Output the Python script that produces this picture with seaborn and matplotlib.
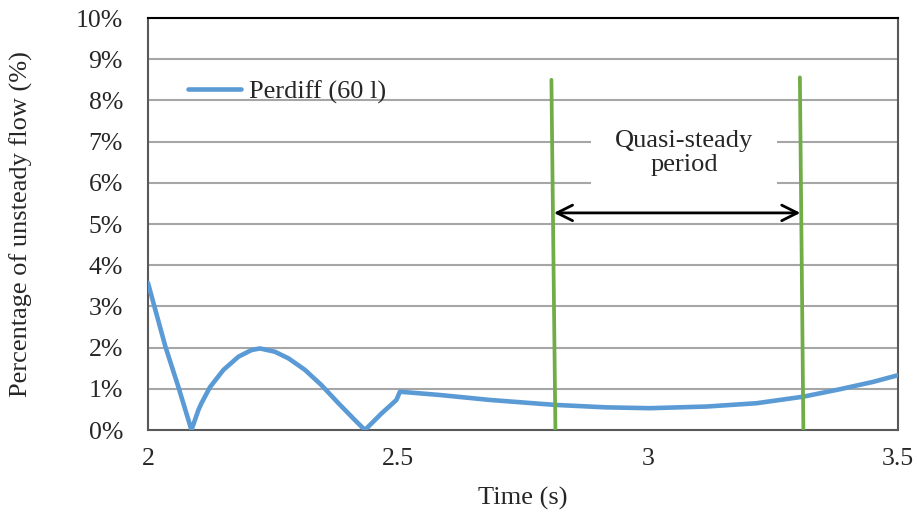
import numpy as np
import pandas as pd
import matplotlib
matplotlib.use('Agg')
import matplotlib.pyplot as plt
import seaborn as sns

# values
time_s = [2.0, 2.035, 2.061, 2.087, 2.101, 2.107, 2.124, 2.151, 2.181, 2.207,
          2.224, 2.254, 2.281, 2.314, 2.347, 2.381, 2.414, 2.434, 2.467, 2.497,
          2.504, 2.584, 2.684, 2.814, 2.917, 3.004, 3.117, 3.217, 3.311, 3.384,
          3.451, 3.5]
unsteady_pct = [3.57, 2.02, 1.04, 0.0, 0.49, 0.65, 1.04, 1.46, 1.78, 1.94,
                1.98, 1.90, 1.74, 1.46, 1.09, 0.65, 0.24, 0.0, 0.40, 0.73,
                0.93, 0.85, 0.73, 0.61, 0.55, 0.53, 0.57, 0.65, 0.81, 0.99,
                1.17, 1.33]

start_line_x = [2.807, 2.815]
start_line_y = [8.5, 0.0]
end_line_x = [3.304, 3.311]
end_line_y = [8.56, 0.0]
arrow_x = [2.812, 3.305]
arrow_y = 5.27

x_ticks = [2, 2.5, 3, 3.5]
x_tick_labels = ['2', '2.5', '3', '3.5']
y_ticks = list(range(0, 11))
y_tick_labels = [f'{v}%' for v in y_ticks]

df = pd.DataFrame({'Time (s)': time_s, 'pct': unsteady_pct})

sns.set_style('white')
plt.rcParams['font.family'] = ['Liberation Serif', 'DejaVu Serif']

fig = plt.figure(figsize=(9.19, 5.15), dpi=100)
ax = fig.add_axes([0.161, 0.165, 0.816, 0.8])

# grid lines
for v in y_ticks[1:]:
    ax.axhline(v, color='#a6a6a6', lw=1.5, zorder=0)

sns.lineplot(data=df, x='Time (s)', y='pct', ax=ax, color='#5b9bd5', lw=3.3,
             label='Perdiff (60 l)', zorder=3, sort=False,
             solid_joinstyle='round')

ax.plot(start_line_x, start_line_y, color='#70ad47', lw=2.7, zorder=4)
ax.plot(end_line_x, end_line_y, color='#70ad47', lw=2.7, zorder=4)

ax.annotate('', xy=(arrow_x[0], arrow_y), xytext=(arrow_x[1], arrow_y),
            arrowprops=dict(arrowstyle='<->', color='black', lw=2,
                            mutation_scale=28, shrinkA=0, shrinkB=0),
            zorder=5)
ax.text(3.072, 6.72, 'Quasi-steady\nperiod', ha='center', va='center',
        fontsize=19, linespacing=1.1, zorder=2,
        bbox=dict(boxstyle='square,pad=0.9', fc='white', ec='none'))

ax.set_xlim(2, 3.5)
ax.set_ylim(0, 10)
ax.set_xticks(x_ticks)
ax.set_xticklabels(x_tick_labels)
ax.set_yticks(y_ticks)
ax.set_yticklabels(y_tick_labels)
ax.tick_params(axis='x', length=0, labelsize=18.5, pad=13)
ax.tick_params(axis='y', length=0, labelsize=18.5, pad=18)
ax.set_xlabel('Time (s)', fontsize=19)
ax.set_ylabel('Percentage of unsteady flow (%)', fontsize=19)
ax.xaxis.set_label_coords(0.5, -0.138)
ax.yaxis.set_label_coords(-0.153, 0.5)

for side in ['left', 'bottom', 'right']:
    ax.spines[side].set_color('#595959')
    ax.spines[side].set_linewidth(1.5)
ax.spines['top'].set_color('black')
ax.spines['top'].set_linewidth(1.5)

ax.legend(loc='center left', bbox_to_anchor=(0.054, 0.82), frameon=False,
          handlelength=2.0, borderpad=0, borderaxespad=0, fontsize=19,
          handletextpad=0.3)

fig.savefig('out.png', dpi=100)
